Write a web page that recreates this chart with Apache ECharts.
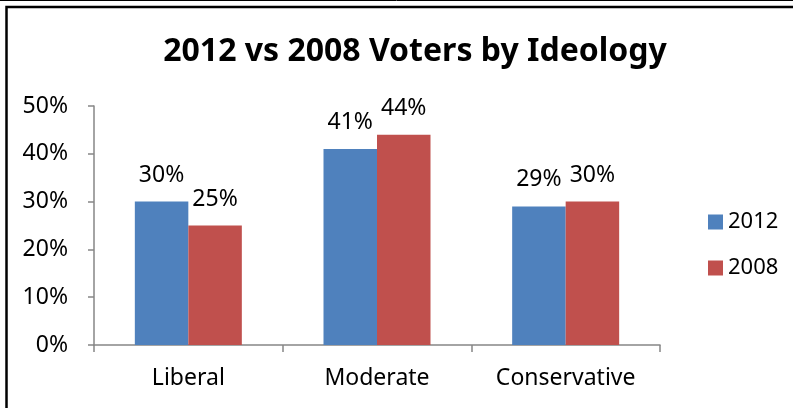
<!DOCTYPE html>
<html><head><meta charset="utf-8">
<script src="https://cdn.jsdelivr.net/npm/echarts@6/dist/echarts.min.js"></script>
<style>html,body{margin:0;padding:0;background:#fff}#c{width:793px;height:408px}</style>
</head><body><div id="c"></div>
<script>
const categories = ['Liberal', 'Moderate', 'Conservative'];
const values2012 = [30, 41, 29];
const values2008 = [25, 44, 30];
const seriesNames = ['2012', '2008'];
const yTicks = [0, 10, 20, 30, 40, 50];

const chart = echarts.init(document.getElementById('c'));
const font = 'Noto Sans';
const labelCfg = {show: true, position: 'top', distance: 15, color: '#000', fontSize: 23, fontFamily: font, formatter: p => p.value + '%'};
chart.setOption({
  animation: false,
  graphic: [
    {type: 'line', shape: {x1: 0, y1: 0.5, x2: 793, y2: 0.5}, style: {stroke: '#000', lineWidth: 1}},
    {type: 'rect', shape: {x: 6.5, y: 7, width: 800, height: 420}, style: {fill: 'none', stroke: '#000', lineWidth: 2.5}}
  ],
  title: {text: '2012 vs 2008 Voters by Ideology', left: 410, top: 31, textAlign: 'center',
    textStyle: {fontFamily: font, fontWeight: 'bold', fontSize: 32, color: '#000'}},
  legend: {orient: 'vertical', left: 703, top: 206, itemWidth: 15, itemHeight: 15, itemGap: 24,
    icon: 'rect', data: seriesNames,
    textStyle: {fontFamily: font, fontSize: 22, color: '#000'}},
  grid: {left: 94, right: 133, top: 106, bottom: 63},
  xAxis: {type: 'category', data: categories,
    axisLine: {lineStyle: {color: '#868686', width: 1.5}},
    axisTick: {show: true, length: 7, lineStyle: {color: '#868686', width: 1.5}},
    axisLabel: {color: '#000', fontSize: 23, fontFamily: font, margin: 22}},
  yAxis: {type: 'value', min: yTicks[0], max: yTicks[yTicks.length - 1], interval: 10,
    splitLine: {show: false},
    axisLine: {show: true, lineStyle: {color: '#868686', width: 1.5}},
    axisTick: {show: true, length: 6, lineStyle: {color: '#868686', width: 1.5}},
    axisLabel: {color: '#000', fontSize: 23, fontFamily: font, margin: 26, formatter: v => v + '%'}},
  series: [
    {name: seriesNames[0], type: 'bar', data: values2012, barWidth: 53.5, barGap: '0%',
      itemStyle: {color: '#4F81BD'}, label: labelCfg},
    {name: seriesNames[1], type: 'bar', data: values2008, barWidth: 53.5, barGap: '0%',
      itemStyle: {color: '#C0504D'}, label: labelCfg}
  ]
});
</script></body></html>
